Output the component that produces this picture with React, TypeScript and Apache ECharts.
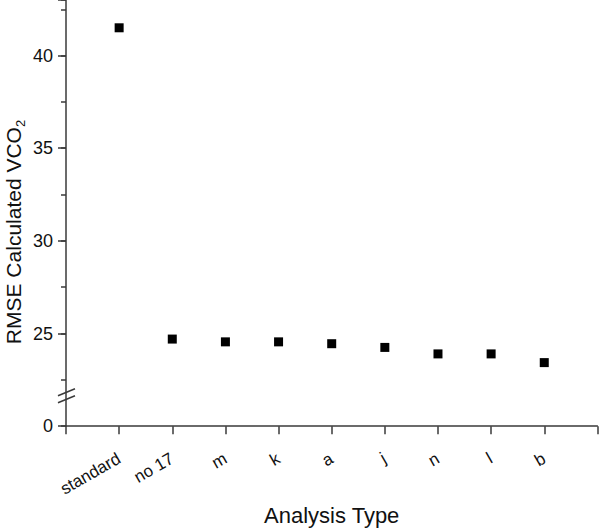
import React, { useEffect, useRef } from "react";
import * as echarts from "echarts";

const categories = ["standard", "no 17", "m", "k", "a", "j", "n", "l", "b"];
const rmseValues = [41.5, 24.7, 24.55, 24.55, 24.45, 24.25, 23.9, 23.9, 23.43];
const yTickLabels: Record<number, string> = { 20: "0", 25: "25", 30: "30", 35: "35", 40: "40" };
const breakValue = 21.75;

export default function App() {
  const ref = useRef<HTMLDivElement>(null);
  useEffect(() => {
    if (!ref.current) return;
    const chart = echarts.init(ref.current, null, { renderer: "svg" });
    const axisColor = "#3a3a3a";
    const font = "Liberation Sans, Arial, sans-serif";
    const yBase = {
      type: "value",
      min: 20,
      max: 43,
      position: "left",
      splitLine: { show: false },
    };
    chart.setOption({
      animation: false,
      backgroundColor: "#ffffff",
      grid: { left: 66, right: 2, top: 0, bottom: 99, containLabel: false },
      xAxis: {
        type: "value",
        min: 0,
        max: 10,
        interval: 1,
        name: "Analysis Type",
        nameLocation: "middle",
        nameGap: 76,
        nameTextStyle: { fontSize: 22, color: "#111", fontFamily: font },
        axisLine: { show: true, lineStyle: { color: axisColor, width: 1.5 } },
        axisTick: { show: true, inside: false, length: 8, lineStyle: { color: axisColor, width: 1.5 } },
        splitLine: { show: false },
        axisLabel: {
          rotate: 30,
          margin: 31,
          fontSize: 17,
          color: "#111",
          fontFamily: font,
          formatter: (v: number) => categories[v - 1] ?? "",
        },
      },
      yAxis: [
        {
          ...yBase,
          interval: 5,
          axisLine: { show: true, lineStyle: { color: axisColor, width: 1.5 } },
          axisTick: { show: true, inside: false, length: 8, lineStyle: { color: axisColor, width: 1.5 } },
          axisLabel: {
            margin: 13,
            fontSize: 18,
            color: "#111",
            fontFamily: font,
            formatter: (v: number) => yTickLabels[v] ?? "",
          },
        },
        {
          ...yBase,
          interval: 2.5,
          offset: 0,
          axisLine: { show: false },
          axisTick: { show: true, inside: false, length: 5, lineStyle: { color: axisColor, width: 1.5 } },
          axisLabel: { show: false },
        },
      ],
      series: [
        {
          type: "scatter",
          symbol: "rect",
          symbolSize: 9,
          itemStyle: { color: "#000", opacity: 1 },
          data: categories.map((c, i) => [i + 1, rmseValues[i]]),
        },
      ],
    });
    const ax = chart.convertToPixel({ gridIndex: 0 }, [0, breakValue]) as number[];
    const x0 = ax[0];
    const yb = ax[1];
    chart.setOption({
      graphic: [
        {
          type: "line",
          shape: { x1: x0 - 8, y1: yb + 2, x2: x0 + 9, y2: yb - 5 },
          style: { stroke: axisColor, lineWidth: 1.5 },
        },
        {
          type: "line",
          shape: { x1: x0 - 8, y1: yb + 9, x2: x0 + 9, y2: yb + 2 },
          style: { stroke: axisColor, lineWidth: 1.5 },
        },
        {
          type: "text",
          x: 13,
          y: 232,
          rotation: Math.PI / 2,
          style: {
            text: "{m|RMSE Calculated VCO}{s|2}",
            align: "center",
            verticalAlign: "middle",
            fill: "#111",
            rich: {
              m: { fontSize: 21, lineHeight: 28, verticalAlign: "middle", fontFamily: font, fill: "#111" },
              s: { fontSize: 13, lineHeight: 13, verticalAlign: "bottom", fontFamily: font, fill: "#111" },
            },
          },
        },
      ],
    });
    return () => chart.dispose();
  }, []);
  return <div ref={ref} style={{ width: 600, height: 531, position: "absolute", left: 0, top: 0 }} />;
}
